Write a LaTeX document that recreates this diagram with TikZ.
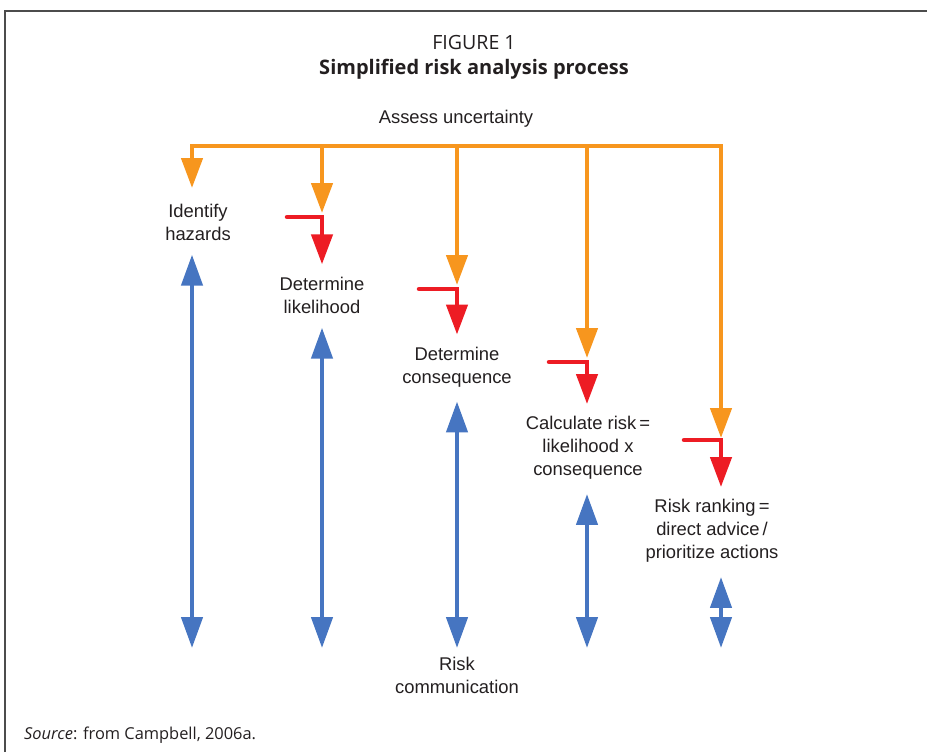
\documentclass[tikz,border=0pt]{standalone}
\usepackage{fontspec}
\setmainfont{Liberation Sans}
\newfontfamily\capfont{Open Sans}
\usetikzlibrary{arrows.meta}

\definecolor{riskorange}{RGB}{247,150,30}
\definecolor{riskred}{RGB}{237,28,36}
\definecolor{riskblue}{RGB}{70,117,193}
\definecolor{inktext}{RGB}{35,31,32}

\tikzset{
    step label/.style={align=center,inner sep=0pt,text=inktext,font=\fontsize{9.2}{11.5}\selectfont},
    bar/.style={line width=2.25pt,-{Triangle[length=15pt,width=10.5pt]}},
    orange bar/.style={bar,riskorange},
    red bar/.style={bar,riskred,line cap=round},
    blue bar/.style={line width=2.25pt,riskblue,{Triangle[length=15.5pt,width=10.5pt]}-{Triangle[length=15.5pt,width=10.5pt]}}
}

\begin{document}
\begin{tikzpicture}[x=0.5pt,y=-0.5pt]
        \useasboundingbox (0,0) rectangle (927,752);
        \draw[line width=0.9pt,black!70] (5,752) -- (5,11) -- (927,11);

        \node[text=inktext,font=\capfont\fontsize{9.8}{12}\selectfont] (fig) at (474,42) {FIGURE 1};
        \node[text=inktext,font=\capfont\bfseries\fontsize{10}{12}\selectfont] (title) at (474,69) {Simplified risk analysis process};
        \node[step label] (assess) at (456,119) {Assess uncertainty};
        \node[text=inktext,anchor=west,font=\capfont\fontsize{8.2}{11}\selectfont] (source) at (17,735) {\textit{Source}: from Campbell, 2006a.};

        \node[step label] (hazards) at (198,222) {Identify\\hazards};
        \node[step label] (likelihood) at (322,295) {Determine\\likelihood};
        \node[step label] (consequence) at (457,367) {Determine\\consequence};
        \node[step label] (calcrisk) at (588,448) {Calculate risk\,=\\likelihood x\\consequence};
        \node[step label] (ranking) at (712,531) {Risk ranking\,=\\direct advice\,/\\prioritize actions};
        \node[step label] (riskcomm) at (457,675) {Risk\\communication};

        % uncertainty bus
        \coordinate (b1) at (192,146);
        \coordinate (b2) at (322,146);
        \coordinate (b3) at (457,146);
        \coordinate (b4) at (587,146);
        \coordinate (b5) at (721,146);
        \coordinate (h1) at (192,188);
        \coordinate (h5) at (721,438);

        % red elbows
        \coordinate (s2) at (287,217);
        \coordinate (e2) at (322,217);
        \coordinate (s3) at (419,289);
        \coordinate (e3) at (457,289);
        \coordinate (s4) at (549,362);
        \coordinate (e4) at (587,362);
        \coordinate (s5) at (684,440);
        \coordinate (e5) at (721,440);

        % communication ends
        \coordinate (c1) at (192,648);
        \coordinate (c2) at (322,648);
        \coordinate (c3) at (457,648);
        \coordinate (c4) at (587,648);
        \coordinate (c5) at (721,648);

        \draw[orange bar,{Triangle[length=15pt,width=10.5pt]}-{Triangle[length=15pt,width=10.5pt]}] (h1) -- (b1) -- (b5) -- (h5);
        \draw[orange bar,shorten >=2pt] (b2) -- (e2);
        \draw[orange bar,shorten >=2pt] (b3) -- (e3);
        \draw[orange bar,shorten >=2pt] (b4) -- (e4);

        \draw[red bar,shorten >=6pt] (s2) -- (e2) -- (e2 |- likelihood.north);
        \draw[red bar,shorten >=6pt] (s3) -- (e3) -- (e3 |- consequence.north);
        \draw[red bar,shorten >=6pt] (s4) -- (e4) -- (e4 |- calcrisk.north);
        \draw[red bar,shorten >=6pt] (s5) -- (e5) -- (e5 |- ranking.north);

        \draw[blue bar,shorten <=7pt] (c1 |- hazards.south) -- (c1);
        \draw[blue bar,shorten <=7pt] (c2 |- likelihood.south) -- (c2);
        \draw[blue bar,shorten <=7pt] (c3 |- consequence.south) -- (c3);
        \draw[blue bar,shorten <=7pt] (c4 |- calcrisk.south) -- (c4);
        \draw[blue bar,shorten <=7pt] (c5 |- ranking.south) -- (c5);
    \end{tikzpicture}
\end{document}
